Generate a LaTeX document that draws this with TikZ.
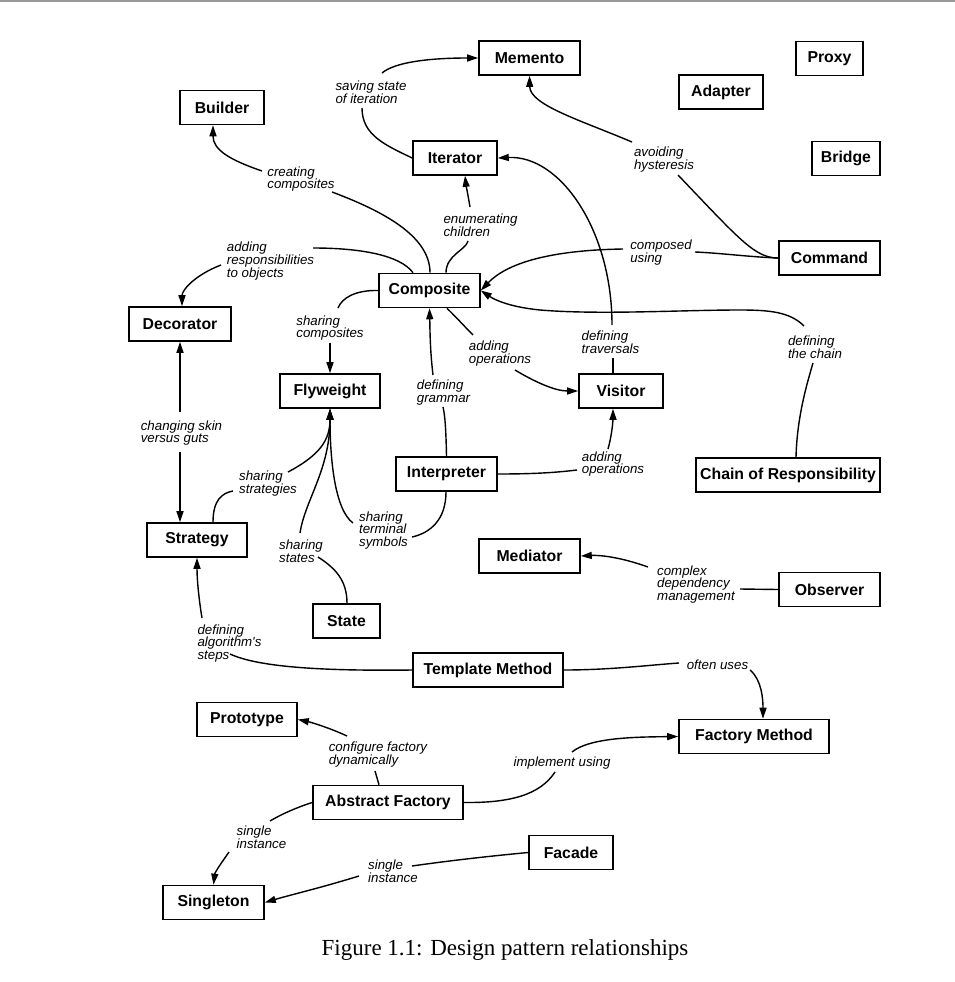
\documentclass[tikz,border=0pt]{standalone}
\usepackage{fontspec}
\usetikzlibrary{arrows.meta}
\newfontfamily\hv{Liberation Sans}
\newfontfamily\capfont{Liberation Serif}
\newcommand\pfnt{\hv\bfseries\fontsize{15.8}{17}\selectfont}
\newcommand\lfnt{\hv\itshape\fontsize{13.3}{12.6}\selectfont}
\begin{document}
\begin{tikzpicture}[x=1pt,y=-1pt,
 pat/.style={draw, line width=1.6pt, minimum height=34pt, inner sep=0pt, font=\pfnt},
 lbl/.style={font=\lfnt, align=left, inner sep=0pt},
 con/.style={line width=1.4pt},
 arr/.style={con, -{Triangle[length=11pt,width=7pt]}}]
\useasboundingbox (0,0) rectangle (955,982);
\fill[gray!80] (0,0) rectangle (955,2.5);
% pattern boxes
\node[pat,minimum width=101pt] (memento) at (529.5,58) {Memento};
\node[pat,minimum width=67pt] (proxy) at (829.5,58.5) {Proxy};
\node[pat,minimum width=84pt] (adapter) at (721,92) {Adapter};
\node[pat,minimum width=68pt] (bridge) at (846,158.5) {Bridge};
\node[pat,minimum width=101pt] (command) at (829.5,258) {Command};
\node[pat,minimum width=84pt] (builder) at (222,107.5) {Builder};
\node[pat,minimum width=84pt] (iterator) at (455,158) {Iterator};
\node[pat,minimum width=101pt] (composite) at (429.5,290.5) {Composite};
\node[pat,minimum width=102pt] (decorator) at (180,324) {Decorator};
\node[pat,minimum width=100pt] (flyweight) at (330,391) {Flyweight};
\node[pat,minimum width=101pt] (interpreter) at (446.5,474) {Interpreter};
\node[pat,minimum width=100pt] (strategy) at (197,540) {Strategy};
\node[pat,minimum width=67pt] (state) at (346.5,621) {State};
\node[pat,minimum width=84pt] (visitor) at (621,391) {Visitor};
\node[pat,minimum width=184pt] (chain) at (788,475) {Chain of Responsibility};
\node[pat,minimum width=101pt] (mediator) at (529.5,556) {Mediator};
\node[pat,minimum width=101pt] (observer) at (829.5,589.5) {Observer};
\node[pat,minimum width=150pt] (template) at (488,670) {Template Method};
\node[pat,minimum width=100pt] (prototype) at (247,719.5) {Prototype};
\node[pat,minimum width=150pt] (factorym) at (754,736.5) {Factory Method};
\node[pat,minimum width=150pt] (abstractf) at (388,802.5) {Abstract Factory};
\node[pat,minimum width=84pt] (facade) at (571,852.5) {Facade};
\node[pat,minimum width=101pt] (singleton) at (213.5,902.5) {Singleton};
% labels
\node[lbl] (L1) at (371,92) {saving state\\of iteration};
\node[lbl] (L2) at (301,179) {creating\\composites};
\node[lbl] (L3) at (480.5,225) {enumerating\\children};
\node[lbl] (L4) at (270.5,261) {adding\\responsibilities\\to objects};
\node[lbl] (L5) at (330,328) {sharing\\composites};
\node[lbl] (L6) at (443.5,392.5) {defining\\grammar};
\node[lbl] (L7) at (500,353.5) {adding\\operations};
\node[lbl] (L8) at (610.5,342) {defining\\traversals};
\node[lbl] (L9) at (661,252.5) {composed\\using};
\node[lbl] (L10) at (664,159.5) {avoiding\\hysteresis};
\node[lbl] (L11) at (815,347) {defining\\the chain};
\node[lbl] (L12) at (613,464) {adding\\operations};
\node[lbl] (L13) at (181.5,433) {changing skin\\versus guts};
\node[lbl] (L14) at (268,483.5) {sharing\\strategies};
\node[lbl] (L15) at (301,551.5) {sharing\\states};
\node[lbl] (L16) at (383.5,530.5) {sharing\\terminal\\symbols};
\node[lbl] (L17) at (229.5,643.5) {defining\\algorithm's\\steps};
\node[lbl] (L18) at (717.5,664.5) {often uses};
\node[lbl] (L19) at (562,763) {implement using};
\node[lbl] (L20) at (378,754.5) {configure factory\\dynamically};
\node[lbl] (L21) at (261.5,837) {single\\instance};
\node[lbl] (L22) at (393,871.5) {single\\instance};
\node[lbl] (L23) at (696,584.5) {complex\\dependency\\management};
% caption
\node[font=\capfont\fontsize{23}{26}\selectfont, inner sep=0pt, anchor=base] (cap) at (505,955) {Figure 1.1: Design pattern relationships};
% connectors
% C1 Iterator -> Memento
\draw[con] (iterator.west) .. controls (385,145) and (362,135) .. ([shift={(-9,16)}]L1.center);
\draw[arr] ([shift={(11,-19)}]L1.center) .. controls (395,62) and (430,58) .. (memento.west);
% C2 Composite -> Builder
\draw[con] ([xshift=0.5pt]composite.north) .. controls (430,235) and (380,210) .. ([shift={(31,13)}]L2.center);
\draw[arr] ([shift={(-39,-8)}]L2.center) .. controls (230,160) and (213,150) .. ([xshift=-9pt]builder.south);
% C3 Composite -> Iterator
\draw[con] ([xshift=16.5pt]composite.north) .. controls (446,255) and (466,250) .. ([shift={(-12.5,16)}]L3.center);
\draw[arr] ([shift={(-10.5,-18)}]L3.center) .. controls (468,195) and (466,185) .. ([xshift=10pt]iterator.south);
% C4 Composite -> Decorator
\draw[con] ([xshift=-16.5pt]composite.north) .. controls (400,255) and (360,248) .. ([shift={(42.5,-13)}]L4.center);
\draw[arr] ([shift={(-49.5,4)}]L4.center) .. controls (195,275) and (182,290) .. ([xshift=2pt]decorator.north);
% C5 Composite -> Flyweight
\draw[con] (composite.west) .. controls (355,290) and (342,298) .. ([shift={(8,-20)}]L5.center);
\draw[arr] ([shift={(0,15)}]L5.center) -- (flyweight.north);
% C6 Interpreter -> Composite
\draw[con] (interpreter.north) .. controls (446,430) and (445,415) .. ([shift={(-0.5,14.5)}]L6.center);
\draw[arr] ([shift={(-10.5,-17.5)}]L6.center) .. controls (430,350) and (430,330) .. (composite.south);
% C7 Composite -> Visitor
\draw[con] ([xshift=17.5pt]composite.south) .. controls (457,318) and (465,327) .. ([shift={(-27,-18.5)}]L7.center);
\draw[arr] ([shift={(15,16.5)}]L7.center) .. controls (535,382) and (555,391) .. (visitor.west);
% C8 Visitor -> Iterator
\draw[con] ([xshift=-8pt]visitor.north) -- ([shift={(2.5,16)}]L8.center);
\draw[arr] ([shift={(1.5,-17)}]L8.center) .. controls (612,230) and (560,155) .. (iterator.east);
% C9 Command -> Composite
\draw[con] (command.west) .. controls (750,257) and (720,253) .. ([shift={(34,-0.5)}]L9.center);
\draw[arr] ([shift={(-38,-3.5)}]L9.center) .. controls (560,250) and (510,260) .. (composite.east);
% C10 Command -> Memento
\draw[con] (command.west) .. controls (755,258) and (740,240) .. ([shift={(14,15.5)}]L10.center);
\draw[arr] ([shift={(-32,-17.5)}]L10.center) .. controls (580,120) and (530,105) .. (memento.south);
% C11 Chain -> Composite
\draw[con] ([xshift=8pt]chain.north) .. controls (797,420) and (805,390) .. ([shift={(-2,16)}]L11.center);
\draw[arr] ([shift={(-11,-21)}]L11.center) .. controls (790,312) and (770,310) .. (740,310)
  .. controls (680,310) and (600,315) .. (540,310) .. controls (510,307) and (495,300) .. (composite.east);
% C12 Interpreter -> Visitor
\draw[con] (interpreter.east) .. controls (540,474) and (560,472) .. ([shift={(-36,6)}]L12.center);
\draw[arr] ([shift={(-5,-15)}]L12.center) .. controls (612,435) and (613,420) .. ([xshift=-8pt]visitor.south);
% C13 Decorator <-> Strategy
\draw[arr] ([shift={(-1.5,-21)}]L13.center) -- (decorator.south);
\draw[arr] ([shift={(-1.5,19)}]L13.center) -- ([xshift=-17pt]strategy.north);
% C14 Strategy -> Flyweight
\draw[con] ([xshift=16pt]strategy.north) .. controls (213,500) and (222,493) .. ([shift={(-35,7.5)}]L14.center);
\draw[arr] ([shift={(20,-11.5)}]L14.center) .. controls (320,455) and (330,440) .. (flyweight.south);
% C15 State -> Flyweight
\draw[con] ([xshift=0.5pt]state.north) .. controls (347,580) and (335,568) .. ([shift={(17,5.5)}]L15.center);
\draw[arr] ([shift={(-1,-18.5)}]L15.center) .. controls (305,500) and (330,470) .. (flyweight.south);
% C16 Interpreter -> Flyweight
\draw[con] ([xshift=-0.5pt]interpreter.south) .. controls (446,520) and (430,533) .. ([shift={(28.5,6.5)}]L16.center);
\draw[arr] ([shift={(-30.5,-7.5)}]L16.center) .. controls (335,510) and (330,460) .. (flyweight.south);
% C17 Template -> Strategy
\draw[con] (template.west) .. controls (330,671) and (260,668) .. ([shift={(0.5,10.5)}]L17.center);
\draw[arr] ([shift={(-27.5,-25.5)}]L17.center) .. controls (199,600) and (197,580) .. (strategy.south);
% C18 Template -> Factory Method
\draw[con] (template.east) .. controls (610,670) and (650,665) .. ([shift={(-38.5,-1.5)}]L18.center);
\draw[arr] ([shift={(32.5,5.5)}]L18.center) .. controls (762,680) and (763,700) .. ([xshift=9pt]factorym.north);
% C19 Abstract Factory -> Factory Method
\draw[con] (abstractf.east) .. controls (510,803) and (540,795) .. ([shift={(-7,9)}]L19.center);
\draw[arr] ([shift={(10,-11)}]L19.center) .. controls (590,737) and (640,737) .. (factorym.west);
% C20 Abstract Factory -> Prototype
\draw[con] ([xshift=-9pt]abstractf.north) -- ([shift={(-3,16.5)}]L20.center);
\draw[arr] ([shift={(-31,-18.5)}]L20.center) .. controls (330,728) and (310,722) .. (prototype.east);
% C21 Abstract Factory -> Singleton
\draw[con] (abstractf.west) .. controls (295,808) and (280,815) .. ([shift={(8.5,-16)}]L21.center);
\draw[arr] ([shift={(-32.5,15)}]L21.center) .. controls (222,862) and (215,872) .. (singleton.north);
% C22 Facade -> Singleton
\draw[con] (facade.west) .. controls (480,857) and (440,862) .. ([shift={(19,-5.5)}]L22.center);
\draw[arr] ([shift={(-34,4.5)}]L22.center) .. controls (320,888) and (290,895) .. (singleton.east);
% C23 Observer -> Mediator
\draw[con] (observer.west) -- ([shift={(44,4.5)}]L23.center);
\draw[arr] ([shift={(-48,-17.5)}]L23.center) .. controls (620,557) and (600,555) .. (mediator.east);
\end{tikzpicture}
\end{document}
